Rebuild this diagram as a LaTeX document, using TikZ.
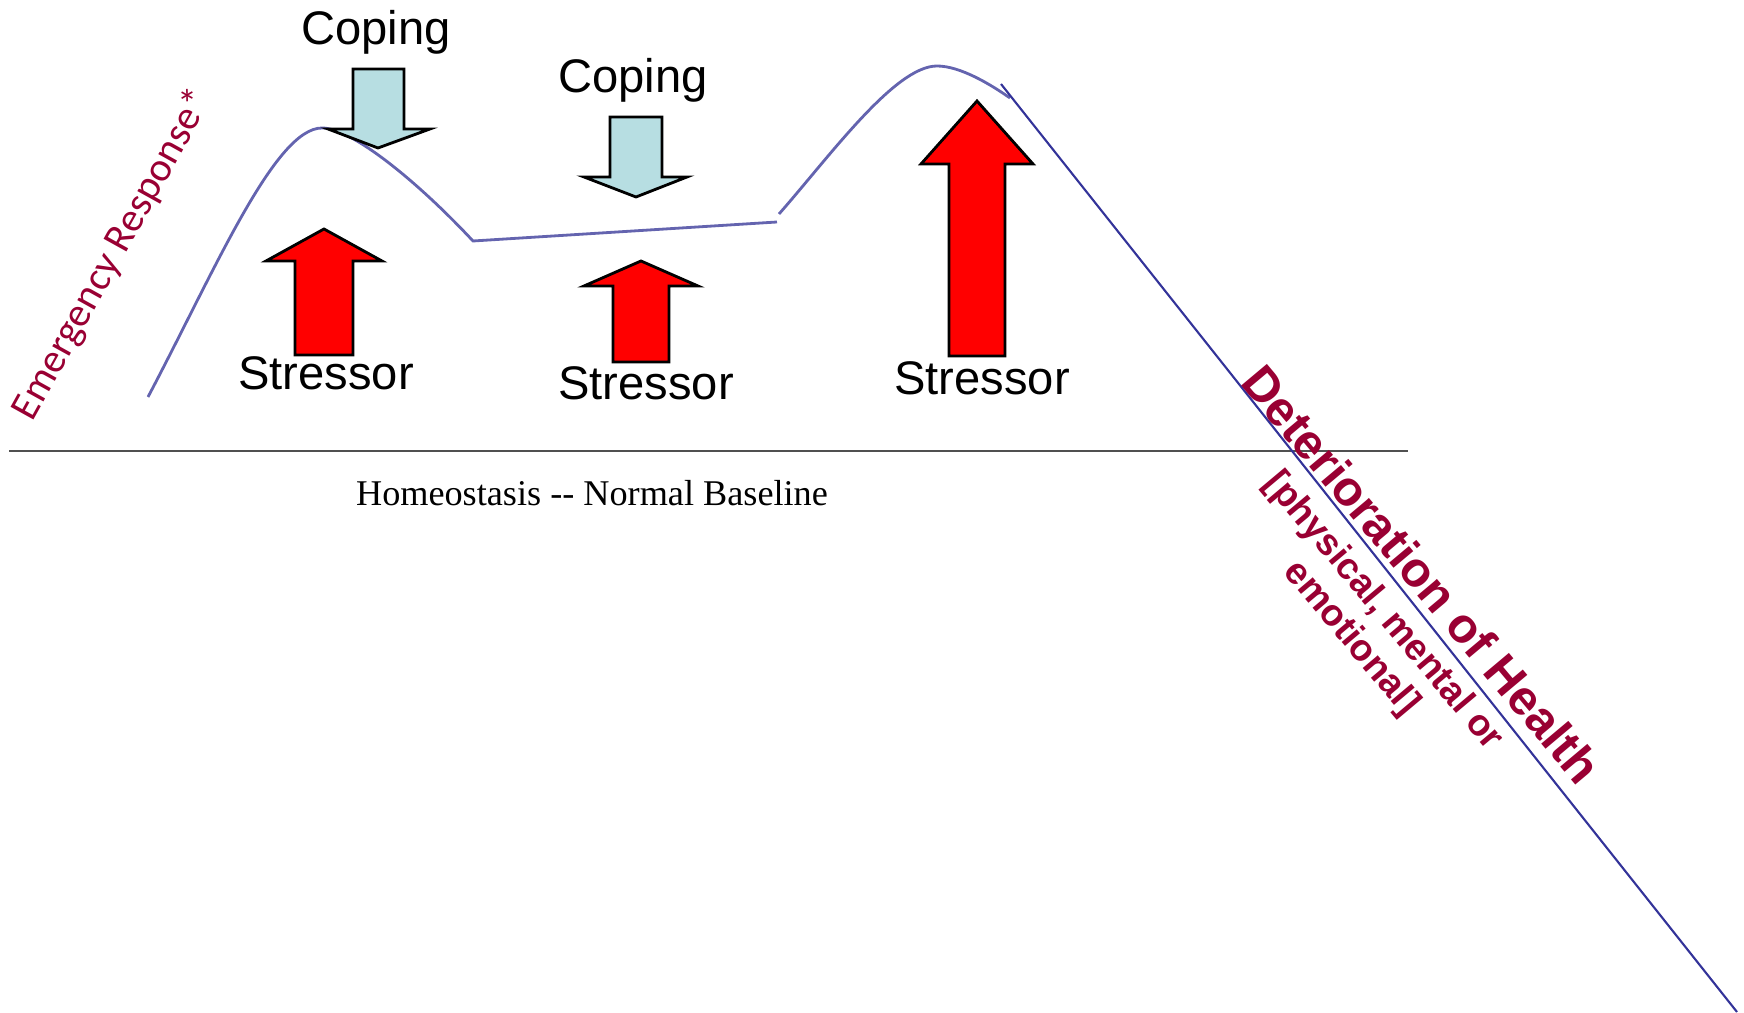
\documentclass[tikz,border=0pt]{standalone}
\usepackage{fontspec}
\setmainfont{Liberation Sans}
\newfontfamily\emfont{Carlito}
\newfontfamily\baselinefont{Liberation Serif}
\definecolor{wine}{RGB}{153,0,51}
\definecolor{icefill}{RGB}{183,222,226}
\definecolor{wavecol}{RGB}{100,100,175}
\definecolor{declcol}{RGB}{51,51,153}
\definecolor{basecol}{RGB}{80,80,80}
\begin{document}
\begin{tikzpicture}[x=0.01cm,y=-0.01cm,
	wave/.style={draw=wavecol,line width=0.8pt},
	stressor/.style={draw=black,fill=red,line width=0.8pt,line join=miter},
	coping/.style={draw=black,fill=icefill,line width=0.8pt,line join=miter},
	lbl/.style={inner sep=0pt,anchor=base,font=\fontsize{13.4}{16}\selectfont}]
	\useasboundingbox (0,0) rectangle (1744,1013);
	%baseline
	\draw[basecol,line width=0.8pt] (9,451)--(1408,451);
	\node[inner sep=0pt,anchor=base,font=\baselinefont\fontsize{10.3}{12}\selectfont] (homeo) at (592,506) {Homeostasis -- Normal Baseline};
	%response curve
	\draw[wave] (148,397) .. controls (215,270) and (275,128) .. (322,128)
		.. controls (352,128) and (418,182) .. (473,241) -- (777,222);
	\draw[wave] (779,214) .. controls (830,156) and (895,66) .. (937,66)
		.. controls (960,66) and (990,84) .. (1010,98);
	\draw[declcol,line width=0.6pt] (1001,84)--(1737,1012);
	%stressors
	\draw[stressor] (295,355)--(295,261)--(266,261)--(324,229)--(382,261)--(353,261)--(353,355)--cycle;
	\draw[stressor] (613,362)--(613,286)--(584,286)--(641,261)--(698,286)--(669,286)--(669,362)--cycle;
	\draw[stressor] (949,356)--(949,164)--(921,164)--(977,101)--(1033,164)--(1005,164)--(1005,356)--cycle;
	\node[lbl] (str1) at (326,390) {Stressor};
	\node[lbl] (str2) at (646,400) {Stressor};
	\node[lbl] (str3) at (982,395) {Stressor};
	%coping
	\draw[coping] (353,69)--(353,129)--(328,129)--(378,148)--(430,129)--(404,129)--(404,69)--cycle;
	\draw[coping] (610,117)--(610,177)--(584,177)--(636,197)--(687,177)--(662,177)--(662,117)--cycle;
	\node[lbl] (cop1) at (376,45) {Coping};
	\node[lbl] (cop2) at (633,93) {Coping};
	%side labels
	\node[wine,rotate=61,inner sep=0pt,font=\emfont\fontsize{11.6}{14}\selectfont] (emerg) at (113,255) {Emergency Response*};
	\node[wine,rotate=-50,inner sep=0pt,font=\bfseries\fontsize{13.9}{17}\selectfont] (deter) at (1422,574) {Deterioration of Health};
	\node[wine,rotate=-50,inner sep=0pt,align=center,font=\bfseries\fontsize{10.6}{12}\selectfont] (deterkind) at (1367,625) {{[}physical, mental or\\emotional{]}};
\end{tikzpicture}
\end{document}
